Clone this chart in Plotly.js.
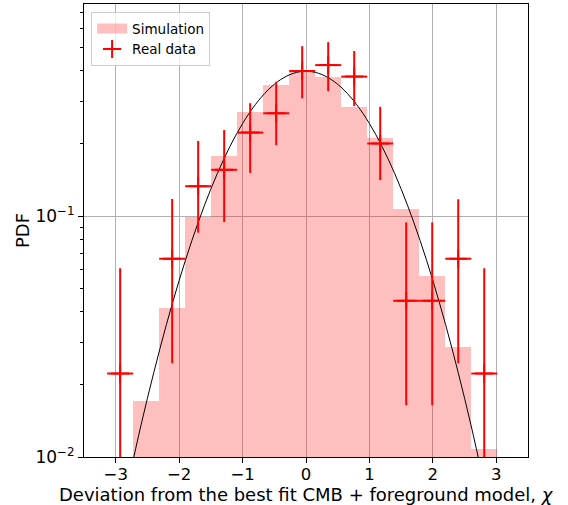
<!DOCTYPE html>
<html>
<head>
<meta charset="utf-8">
<script src="https://cdn.plot.ly/plotly-3.0.1.min.js"></script>
<style>html,body{margin:0;padding:0;background:#fff;}#chart{width:568px;height:505px;}</style>
</head>
<body>
<div id="chart"></div>
<script>
// Simulation histogram (bin centres and PDF heights)
var simX = [-2.52, -2.11, -1.70, -1.29, -0.88, -0.47, -0.06, 0.35, 0.76, 1.17, 1.58, 1.99, 2.40, 2.81];
var simPdf = [0.0171, 0.0417, 0.099, 0.177, 0.270, 0.350, 0.397, 0.379, 0.284, 0.211, 0.107, 0.0564, 0.0287, 0.0108];

// Real data points with upper / lower ends of their error bars
var dataX = [-2.93, -2.11, -1.70, -1.29, -0.88, -0.47, -0.06, 0.35, 0.76, 1.17, 1.58, 1.99, 2.40, 2.81];
var dataPdf = [0.0222, 0.0665, 0.133, 0.1556, 0.222, 0.267, 0.400, 0.423, 0.379, 0.200, 0.0445, 0.0445, 0.0665, 0.0222];
var dataHi = [0.0607, 0.1177, 0.205, 0.2275, 0.294, 0.361, 0.507, 0.527, 0.484, 0.284, 0.0941, 0.0941, 0.1174, 0.0607];
var dataLo = [0, 0.0245, 0.0853, 0.0944, 0.151, 0.197, 0.308, 0.330, 0.286, 0.141, 0.0164, 0.0164, 0.0245, 0];
var dataHalfBin = 0.205;

// Model curve
var curveX = [-2.8, -2.6, -2.4, -2.2, -2.0, -1.8, -1.6, -1.4, -1.2, -1.0, -0.8, -0.6, -0.4, -0.2, 0.0,
              0.2, 0.4, 0.6, 0.8, 1.0, 1.2, 1.4, 1.6, 1.8, 2.0, 2.2, 2.4, 2.6, 2.8];
var curveY = [0.0079, 0.0136, 0.0224, 0.0355, 0.0540, 0.0790, 0.1109, 0.1497, 0.1942, 0.2420, 0.2897, 0.3332, 0.3683, 0.3910, 0.3989,
              0.3910, 0.3683, 0.3332, 0.2897, 0.2420, 0.1942, 0.1497, 0.1109, 0.0790, 0.0540, 0.0355, 0.0224, 0.0136, 0.0079];

// Axis ticks and titles
var xTicks = [-3, -2, -1, 0, 1, 2, 3];
var yTicks = [0.01, 0.1];
var yTickText = ['10<sup>\u22122</sup>', '10<sup>\u22121</sup>'];
var yMinor = [0.02, 0.03, 0.04, 0.05, 0.06, 0.07, 0.08, 0.09, 0.2, 0.3, 0.4, 0.5, 0.6, 0.7];
var xTitle = 'Deviation from the best fit CMB + foreground model, <i>\u03c7</i>';
var yTitle = 'PDF';

var pink = 'rgba(255,0,0,0.25)';
var errPlus = dataHi.map(function (h, i) { return h - dataPdf[i]; });
var errMinus = dataLo.map(function (l, i) { return dataPdf[i] - l; });

var traces = [
  {
    type: 'bar', x: simX, y: simPdf, width: 0.41,
    marker: { color: pink, line: { width: 0 } },
    showlegend: false, hoverinfo: 'x+y'
  },
  {
    type: 'scatter', mode: 'lines', x: [null], y: [null], name: 'Simulation',
    line: { color: pink, width: 10 }, showlegend: true
  },
  {
    type: 'scatter', mode: 'lines', x: curveX, y: curveY,
    line: { color: 'black', width: 1, shape: 'spline' }, showlegend: false
  },
  {
    type: 'scatter', mode: 'markers', x: dataX, y: dataPdf, name: 'Real data',
    marker: { symbol: 'cross-thin-open', size: 13, color: 'red', line: { color: 'red', width: 2 } },
    error_y: { type: 'data', symmetric: false, array: errPlus, arrayminus: errMinus, color: 'red', thickness: 2, width: 0 },
    error_x: { type: 'constant', value: dataHalfBin, color: 'red', thickness: 2, width: 0 }
  }
];

var layout = {
  width: 568, height: 505,
  margin: { l: 84, r: 40, t: 4, b: 48 },
  paper_bgcolor: 'white', plot_bgcolor: 'white',
  font: { family: 'DejaVu Sans', color: 'black', size: 16 },
  showlegend: true,
  legend: {
    x: 0.016, y: 0.982, xanchor: 'left', yanchor: 'top',
    bgcolor: 'rgba(255,255,255,0.8)', bordercolor: '#cccccc', borderwidth: 1,
    tracegroupgap: 0, itemwidth: 30,
    font: { size: 13.5, family: 'DejaVu Sans', color: 'black' }
  },
  xaxis: {
    range: [-3.5, 3.5], tickmode: 'array', tickvals: xTicks,
    ticks: 'outside', ticklen: 5, tickcolor: 'black',
    showline: true, mirror: true, linecolor: 'black', linewidth: 1,
    showgrid: true, gridcolor: '#b0b0b0', gridwidth: 1, zeroline: false,
    tickfont: { size: 16.5 }, ticklabelstandoff: -3
  },
  yaxis: {
    type: 'log', range: [-2, -0.12], tickmode: 'array', tickvals: yTicks, ticktext: yTickText,
    ticks: 'outside', ticklen: 5, tickcolor: 'black',
    showline: true, mirror: true, linecolor: 'black', linewidth: 1,
    showgrid: true, gridcolor: '#b0b0b0', gridwidth: 1, zeroline: false,
    tickfont: { size: 17 },
    minor: { tickmode: 'array', tickvals: yMinor, ticks: 'outside', ticklen: 3, tickcolor: 'black', showgrid: false },
    title: { text: yTitle, font: { size: 18 }, standoff: 1 }
  },
  annotations: [
    {
      text: xTitle, xref: 'paper', yref: 'paper', x: 0.5, y: -0.109,
      xanchor: 'center', yanchor: 'bottom', showarrow: false, borderpad: 0,
      font: { size: 18, family: 'DejaVu Sans', color: 'black' }
    }
  ],
  bargap: 0
};

Plotly.newPlot('chart', traces, layout, { displayModeBar: false, staticPlot: true });
</script>
</body>
</html>
